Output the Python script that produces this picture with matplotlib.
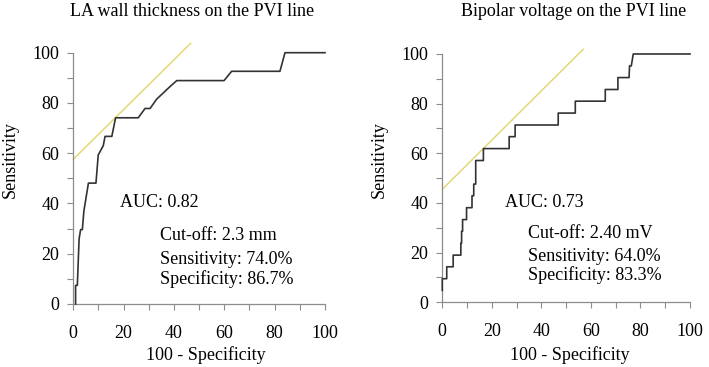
import matplotlib
matplotlib.use("Agg")
import matplotlib.pyplot as plt
from matplotlib.ticker import MultipleLocator

plt.rcParams['font.family'] = ['Liberation Serif', 'DejaVu Serif']

# ---- data ----
la_fpr = [0.9, 0.9, 1.6, 2.3, 2.9, 3.6, 4.2, 6.0, 9.0, 9.9, 11.9, 12.6, 15.3, 16.8,
          25.8, 28.5, 30.5, 33.1, 38.4, 41.1, 59.9, 62.9, 82.1, 84.1, 100]
la_tpr = [0, 7.4, 7.4, 25.9, 29.6, 29.6, 37.0, 48.1, 48.1, 59.3, 63.0, 66.7, 66.7, 74.1,
          74.1, 77.8, 77.8, 81.5, 86.5, 88.9, 88.9, 92.6, 92.6, 100, 100]
la_tan_x = [0, 46.6]
la_tan_y = [57.6, 103.7]

bv_fpr = [0, 0, 1.8, 1.8, 4.4, 4.4, 7.5, 7.5, 7.8, 7.8, 8.2, 8.2, 9.8, 9.8, 12.0, 12.0,
          12.7, 12.7, 13.5, 13.5, 16.6, 16.6, 27.0, 27.0, 29.4, 29.4, 46.8, 46.8, 53.7,
          53.7, 65.8, 65.8, 70.9, 70.9, 75.4, 75.6, 76.3, 77.1, 100]
bv_tpr = [4.8, 9.5, 9.5, 14.3, 14.3, 19.0, 19.0, 23.8, 23.8, 28.6, 28.6, 33.3, 33.3, 38.1,
          38.1, 42.9, 42.9, 47.6, 47.6, 57.1, 57.1, 61.9, 61.9, 66.7, 66.7, 71.4, 71.4,
          76.2, 76.2, 81.0, 81.0, 85.7, 85.7, 90.5, 90.5, 95.2, 95.2, 100, 100]
bv_tan_x = [0, 56.9]
bv_tan_y = [45.5, 101.9]

titles = ["LA wall thickness on the PVI line", "Bipolar voltage on the PVI line"]
auc_texts = ["AUC: 0.82", "AUC: 0.73"]
stat_texts = [["Cut-off: 2.3 mm", "Sensitivity: 74.0%", "Specificity: 86.7%"],
              ["Cut-off: 2.40 mV", "Sensitivity: 64.0%", "Specificity: 83.3%"]]
ticks = [0, 20, 40, 60, 80, 100]
xlabel = "100 - Specificity"
ylabel = "Sensitivity"

W, H = 709, 367
fig = plt.figure(figsize=(W / 100, H / 100), dpi=100)
ax1 = fig.add_axes([0.1034, 0.1717, 0.355, 0.6847])
ax2 = fig.add_axes([0.6238, 0.1763, 0.3494, 0.6766])

curve_col = '#333333'
tan_col = '#e4d877'
spine_col = '#8c8c8c'
FS = 13

panels = [
    dict(ax=ax1, fx=la_fpr, fy=la_tpr, tx=la_tan_x, ty=la_tan_y,
         auc=(18.55, 38.7), sx=34.4, sy=[25.5, 15.9, 7.8],
         title_x=191.7, xlab_x=206, ylab_x=10.5),
    dict(ax=ax2, fx=bv_fpr, fy=bv_tpr, tx=bv_tan_x, ty=bv_tan_y,
         auc=(25.3, 38.5), sx=34.7, sy=[25.8, 16.6, 9.0],
         title_x=573.3, xlab_x=570, ylab_x=379.5),
]

for i, p in enumerate(panels):
    ax = p['ax']
    ax.plot(p['tx'], p['ty'], color=tan_col, lw=1.1, clip_on=False, zorder=2)
    ax.plot(p['fx'], p['fy'], color=curve_col, lw=1.2, clip_on=False, zorder=3)
    ax.set_xlim(0, 100)
    ax.set_ylim(0, 100)
    ax.set_xticks(ticks)
    ax.set_yticks(ticks)
    ax.xaxis.set_minor_locator(MultipleLocator(10))
    ax.yaxis.set_minor_locator(MultipleLocator(10))
    for s in ['top', 'right']:
        ax.spines[s].set_visible(False)
    for s in ['left', 'bottom']:
        ax.spines[s].set_color(spine_col)
        ax.spines[s].set_linewidth(0.9)
    ax.tick_params(which='both', direction='out', length=4, width=0.8, color=spine_col,
                   labelsize=FS)
    ax.tick_params(axis='x', pad=11)
    ax.tick_params(axis='y', pad=6)
    ax.text(p['auc'][0], p['auc'][1], auc_texts[i], fontsize=FS, va='baseline', ha='left')
    for t, yy in zip(stat_texts[i], p['sy']):
        ax.text(p['sx'], yy, t, fontsize=FS, va='baseline', ha='left')
    fig.text(p['title_x'] / W, 1 - 16.5 / H, titles[i], fontsize=FS,
             ha='center', va='baseline')
    fig.text(p['xlab_x'] / W, 1 - 355 / H, xlabel, fontsize=FS, ha='center', va='center')
    fig.text(p['ylab_x'] / W, 1 - 160 / H, ylabel, fontsize=FS, ha='center', va='center',
             rotation=90)

fig.savefig("out.png", dpi=100)
